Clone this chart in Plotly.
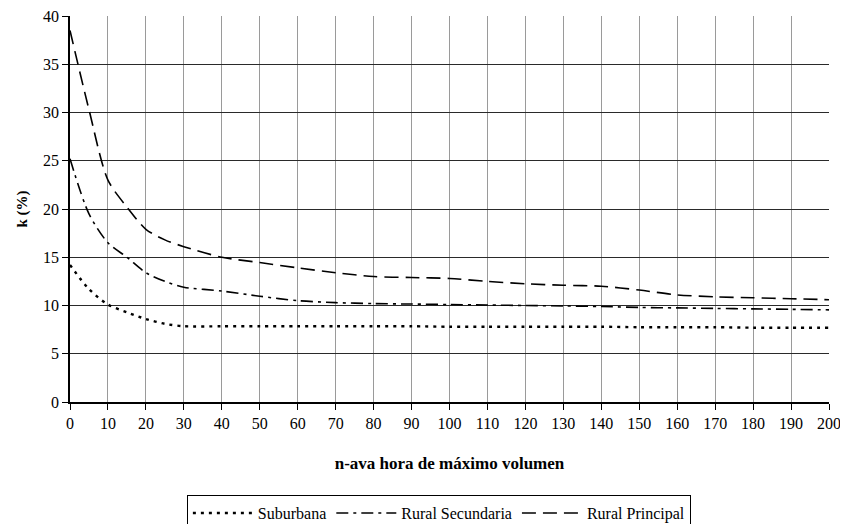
import plotly.graph_objects as go

n_hour = [0, 5, 10, 15, 20, 25, 30, 40, 50, 60, 70, 80, 90, 100, 110, 120, 130, 140, 150, 160, 170, 180, 190, 200]
suburbana = [14.2, 11.7, 10.1, 9.3, 8.6, 8.1, 7.85, 7.85, 7.85, 7.85, 7.85, 7.85, 7.85, 7.8, 7.8, 7.8, 7.8, 7.8, 7.75, 7.75, 7.75, 7.7, 7.7, 7.7]
rural_secundaria = [25.2, 19.5, 16.5, 15.0, 13.4, 12.5, 11.9, 11.5, 10.96, 10.5, 10.3, 10.2, 10.15, 10.1, 10.05, 10.0, 9.95, 9.9, 9.8, 9.75, 9.7, 9.65, 9.6, 9.55]
rural_principal = [38.5, 30.3, 23.0, 20.2, 17.9, 16.8, 16.1, 15.0, 14.45, 13.9, 13.4, 13.0, 12.9, 12.8, 12.5, 12.25, 12.1, 12.0, 11.6, 11.1, 10.9, 10.8, 10.7, 10.6]

x_ticks = list(range(0, 201, 10))
y_ticks = list(range(0, 41, 5))

FONT = "Liberation Serif, Times New Roman, serif"

fig = go.Figure()
fig.add_trace(go.Scatter(x=n_hour, y=suburbana, name="Suburbana", mode="lines",
                         line=dict(color="black", width=2.4, dash="3px,5px", shape="spline", smoothing=0.8)))
fig.add_trace(go.Scatter(x=n_hour, y=rural_secundaria, name="Rural Secundaria", mode="lines",
                         line=dict(color="black", width=1.6, dash="12px,5px,3px,5px", shape="spline", smoothing=0.8)))
fig.add_trace(go.Scatter(x=n_hour, y=rural_principal, name="Rural Principal", mode="lines",
                         line=dict(color="black", width=1.6, dash="14px,7px", shape="spline", smoothing=0.8)))

# hide gridlines at the outer edges (reference has none there)
fig.add_shape(type="line", xref="paper", yref="y", x0=0.002, x1=1.0, y0=40, y1=40,
              line=dict(color="white", width=3), layer="between")
fig.add_shape(type="line", xref="x", yref="paper", x0=200, x1=200, y0=0.003, y1=1.0,
              line=dict(color="white", width=3), layer="between")

# page has an 8px body margin, so the figure is drawn 8px smaller and offset
fig.update_layout(
    width=840, height=516,
    margin=dict(l=62, r=19, t=8, b=122, autoexpand=False),
    paper_bgcolor="white", plot_bgcolor="white",
    font=dict(family=FONT, color="black", size=16),
    showlegend=True,
    legend=dict(orientation="h", x=0.486, xanchor="center",
                yref="container", y=0.056, yanchor="top",
                bordercolor="black", borderwidth=1, font=dict(family=FONT, size=16),
                itemwidth=60, tracegroupgap=0),
)
fig.update_xaxes(range=[0, 200], tickvals=x_ticks, ticktext=[str(v) for v in x_ticks],
                 showgrid=True, gridcolor="#9a9a9a", gridwidth=1.2,
                 showline=True, linecolor="black", linewidth=1.5,
                 ticks="outside", ticklen=6, tickcolor="black", tickwidth=1.2,
                 zeroline=False, tickfont=dict(size=16), automargin=False,
                 ticklabeloverflow="allow",
                 title=dict(text="<b>n-ava hora de máximo volumen</b>", font=dict(size=17), standoff=26))
fig.update_yaxes(range=[0, 40], tickvals=y_ticks, ticktext=[str(v) for v in y_ticks],
                 showgrid=True, gridcolor="#2a2a2a", gridwidth=1.3,
                 showline=True, linecolor="black", linewidth=1.5,
                 ticks="outside", ticklen=6, tickcolor="black", tickwidth=1.2,
                 zeroline=False, tickfont=dict(size=16), automargin=False,
                 ticklabeloverflow="allow",
                 title=dict(text="<b>k (%)</b>", font=dict(size=15), standoff=12))

fig.write_html("out.html")
